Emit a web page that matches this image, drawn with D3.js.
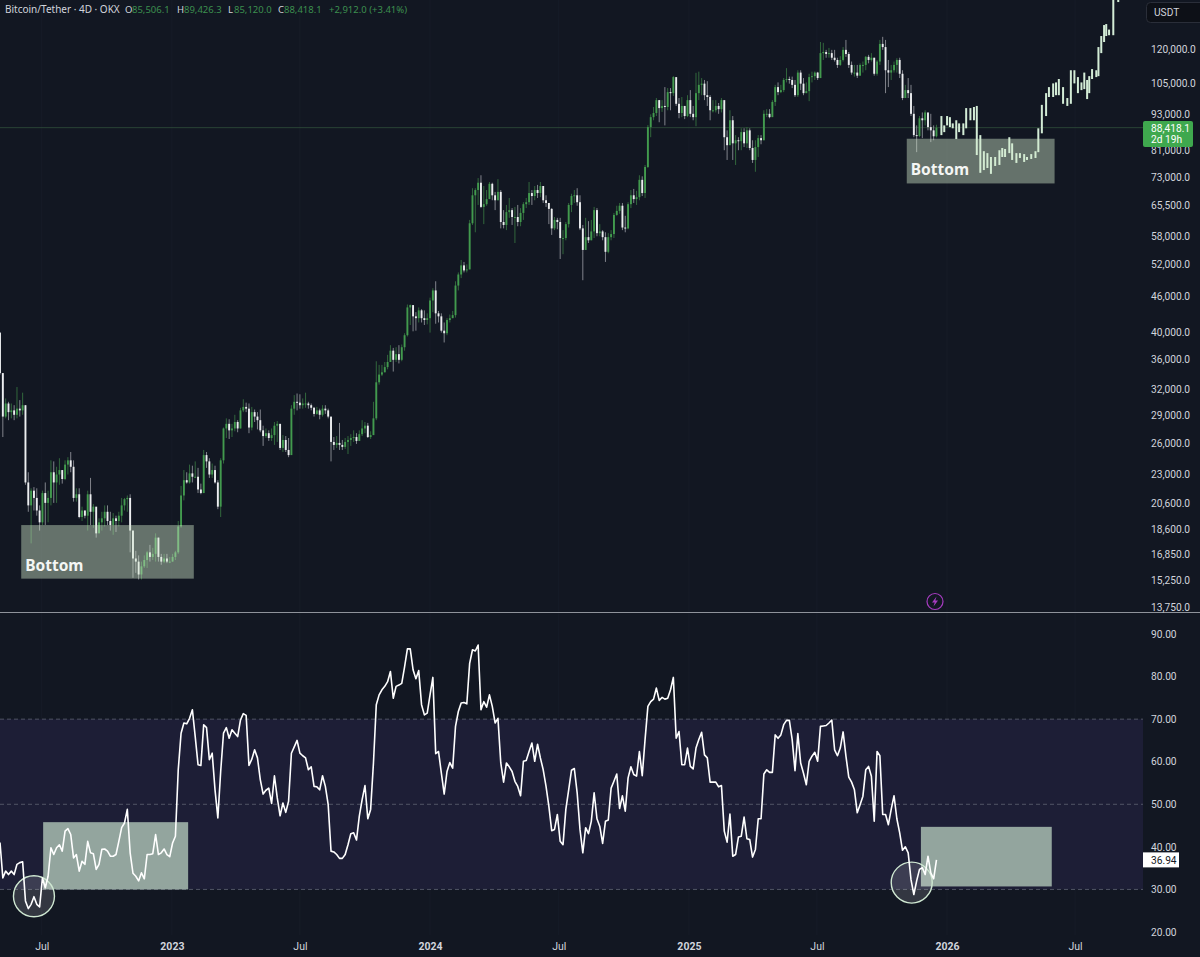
<!DOCTYPE html>
<html>
<head>
<meta charset="utf-8">
<script src="https://cdn.jsdelivr.net/npm/d3@7"></script>
<style>
  html, body { margin: 0; padding: 0; background: #121722; overflow: hidden; }
  svg { display: block; }
  text { font-family: "Noto Sans", sans-serif; fill: #d1d4dc; }
  .axis text { font-family: Roboto, sans-serif; font-size: 10.2px; }
  .axis path, .axis line { display: none; }
  .tag { font-family: Roboto, sans-serif; font-size: 10.2px; }
</style>
</head>
<body>
<script>
// 4D closes (opens are the previous close)
var firstOpen = 39900;
var closes = [
  34100,28800,30300,29300,29500,29000,29700,29500,30100,22300,20400,21600,21000,20000,19100,21400,20600,21000,23200,22300,
  23000,23400,22600,23900,24300,23700,21000,21300,19500,20000,19600,21300,19900,20300,18300,19100,19400,19900,19200,18900,
  19400,19200,19600,20400,20900,21000,18500,16600,16400,15600,16100,16500,17000,16700,16900,18000,16700,16400,16600,16400,
  16400,16700,17000,18800,21200,22500,22300,23100,22800,22800,21700,21400,24800,24200,23000,23400,22300,20300,24300,27500,
  28000,27300,27500,28200,27500,29500,29900,29700,27600,29300,28800,28400,27300,26700,27000,26500,26800,27800,28000,25500,
  26300,25300,24800,29700,30500,30400,
  30100,30300,30300,30100,29800,29100,29500,29000,29700,29500,28800,26100,25800,26000,25800,25600,26100,26300,26500,26600,
  26200,26900,27500,27800,26600,26800,28600,32900,33900,34200,34900,35600,37200,35900,36700,35900,37700,39500,44000,44400,
  42500,42200,43500,42200,41900,42200,45200,47000,43000,42500,40200,39800,41900,42200,42700,47900,50000,51800,50800,51000,
  61000,68000,69400,71400,65000,65700,67000,71100,68000,66700,68900,61300,60600,63700,64200,62500,62500,61300,63500,65700,
  66200,68600,67800,69400,68600,70500,66700,66000,64500,59800,61800,61300,57600,57600,60800,65500,67800,68000,66200,59800,
  55000,57800,57100,59100,64200,58700,59100,57800,54600,57800,58500,63000,64000,65300,60000,59800,65700,68000,67000,67500,
  72200,68600,75900,
  88600,92100,93600,98400,95400,96200,95800,101500,101100,107600,97000,93600,96200,92500,98400,93300,92100,101100,104400,104900,
  100300,99600,94600,94600,96200,95000,98400,85200,82600,91000,83200,84200,83900,86900,83200,87500,81700,78000,82000,84900,
  84200,93300,93300,92100,97700,103500,101500,102300,106400,106800,106400,104400,100300,109500,104900,101100,101900,107600,108000,109500,
  107200,118100,118600,117700,118100,116000,115000,112800,115000,119600,117700,112800,109500,109500,108200,112800,112800,116400,115000,116000,
  109000,114300,122400,120900,110500,109500,110500,112800,115000,109000,99200,102300,101100,93300,85900,85600,91700,91000,93800,88600,
  87500,85506.1,88418.1
];
var highs = [
  39900,34100,30900,30500,30300,30100,32300,30700,31600,30100,23200,21800,21900,21800,20400,21600,22300,21600,24300,24200,
  23700,24500,23400,24300,24600,25100,24300,21800,21800,20300,20000,21600,22700,20500,20000,19400,19900,20400,20400,19900,
  19800,19600,19900,21000,21000,21200,21300,18500,17100,16800,16400,16800,17100,17500,17300,18300,18000,16900,16900,16900,
  16700,16900,17100,19200,22000,23400,23200,23900,23800,24200,23600,22200,25300,25100,24500,24000,23800,22500,24500,27600,
  28600,28500,28000,29000,28400,29800,30800,30400,30300,29900,29600,29300,29600,27800,27500,27300,27500,28200,28300,27700,
  26800,26700,26500,30100,31300,31500,
  31400,30900,31600,30500,30300,29900,29900,29700,30100,30100,29700,28700,26600,26700,28100,26300,26500,26700,26900,27300,
  27000,27300,28400,28200,28100,27200,30500,35700,35200,35200,35600,36600,38000,37600,37700,38000,38100,39800,44500,44500,
  43900,43200,44000,43700,43500,43000,45700,47400,48700,43400,43000,41500,42200,42800,43400,48700,50400,52900,52500,52000,
  61800,69900,69900,72700,73500,70500,69400,71600,71400,68900,72400,69400,64200,65500,67300,64700,65000,65500,64700,66200,
  67300,71600,69400,70500,70800,71600,69900,68000,66000,64700,62500,62300,62300,59400,61300,66000,68400,69400,69900,68000,
  60600,62300,61500,61800,65000,64700,60800,59400,58900,58700,59400,63500,65300,66000,66000,62800,66200,69400,69700,69200,
  73500,73200,76500,
  89300,93100,95800,99200,98400,98400,103500,103100,103100,108000,106400,99200,99600,96200,100300,102300,96200,109400,109900,107200,
  106400,105900,100300,98400,98400,97300,99200,97000,87500,94600,92500,85900,85200,88200,88200,88600,88200,84200,84200,85900,
  85900,94600,95000,95000,98400,104400,105400,104400,107200,111400,107800,107800,106400,110500,110500,107200,105400,109000,109900,110000,
  109800,123300,122900,119600,120500,119600,119600,116000,116700,120900,124300,118600,114300,112800,112800,113500,114300,116800,117300,118100,
  116000,115000,124300,125800,124300,115000,112800,114300,115800,116000,110500,104400,107200,104400,96200,89200,92500,93800,94600,93300,
  93300,89200,89426.3
];
var lows = [
  33900,26600,28600,28400,28600,28400,28600,28800,29000,22100,19900,17600,20000,19600,18500,18900,18900,19100,20400,20600,
  20600,22100,22200,22500,23000,23200,20700,20700,19400,19200,19400,18500,18900,18700,18000,18400,18500,18800,18900,18500,
  18200,18400,18800,19100,20000,19900,17000,15400,15700,15300,15300,16000,16000,16400,16500,16400,16400,16200,16300,16300,
  16300,16400,16500,16900,18700,20800,22200,22200,22300,22700,21400,21300,21400,23600,22700,22700,22200,20100,19500,24000,
  26500,26400,26600,27200,27100,27500,29300,29300,27000,27300,28200,27400,27100,25700,26500,26200,26200,25800,26100,25300,
  25100,25100,24600,26200,29000,29500,
  29700,29700,29800,29700,29500,28800,29000,28500,28800,29100,28600,24200,25300,25500,25300,25300,25400,24900,25700,26100,
  25900,26200,26700,27000,26500,26400,26900,28400,32600,33700,34200,34600,35600,34300,35600,35400,35700,37200,39300,41100,
  40100,40200,41500,41500,41100,41200,39900,43200,41300,41500,39900,38400,39500,41500,42200,42300,47000,49300,50400,50400,
  51000,60600,58900,65500,64700,60800,65300,67300,66700,64200,66700,59800,59800,59400,62300,60600,56500,60300,60300,61800,
  64700,65500,65500,66700,67300,67500,66000,65000,60800,58300,59400,59600,53100,54100,57100,60000,63700,66000,65300,59400,
  48900,55000,56500,57100,57600,58000,58000,57100,52500,54300,57100,57600,62800,63300,59400,58900,59600,64700,66000,65500,
  66700,67800,67300,
  75600,85200,91000,92500,90300,94000,89200,94600,94600,100000,96200,91700,92100,91400,92100,92100,91000,88900,98400,100300,
  98400,96200,91000,93800,93800,93300,93800,81000,78000,85200,78000,76500,81000,81000,82000,81700,81000,77100,74500,78900,
  82900,84200,92100,91700,93300,96200,100300,101100,101500,105400,104900,103100,99600,99600,102300,100300,101100,98000,105400,106400,
  106400,107200,115000,116000,116000,115000,114300,111500,112400,114300,116400,111500,108600,107800,107200,108200,109500,110500,113500,114300,
  108200,108200,112800,119600,101100,103500,106400,109500,109500,107200,98400,99200,99200,92500,85200,80400,85200,84900,89200,87500,
  83600,84200,85120
];

// ghost feed bars on the right of the last candle
var ghostDays = [-8,-4,0,4,8,13,17,23,27,33,38,42,47,52,57,62,68,74,78,82,88,92,98,103,109,113,119,125,129,134,140,144,150,154,158,164,170,175,180,185,190,194,198,201,205,211,214,218,222,225,229,235,242];
var ghostHighs = [92500,89200,92500,92100,89900,91000,89900,89900,95400,95400,95800,96200,85900,80700,80100,78900,78900,81000,81700,81400,85200,83200,80100,80100,79800,78900,79800,80700,88200,96600,101100,103500,105000,105400,106800,103500,99200,110500,110500,107600,105400,109500,106400,108000,111000,110500,120900,126200,131700,132200,129400,148000,148000];
var ghostLows = [85900,86900,89200,88600,88200,84600,86900,85900,88200,91000,91000,79500,74200,75000,75600,73900,76200,76500,78900,78900,80100,78000,77100,78600,77400,78000,78300,78600,80400,86500,92500,99600,99600,100300,100300,97000,96200,97000,105000,101100,102300,102700,98800,101100,106800,107600,108000,118100,123300,126200,126600,126600,144000];

var rsiValues = [
  41,32.7,34.3,33.5,34.3,33.5,35.9,36.3,36.5,27.3,25.5,26.5,28.3,26.5,25.9,32.7,30.4,33.1,39.8,38.2,
  39.8,40.5,39,43.7,44.3,42.9,37.4,38.2,34.3,36.6,35.9,41.3,38.6,38.4,34.7,35.9,39.4,39.5,39,37.8,
  37.8,38.2,41.3,44.5,45.6,48.8,38.6,33.8,33.1,32,33.9,32.5,38.2,38.2,38.4,42.9,38.2,38.6,39.5,38.2,
  37.7,40.9,42.5,58.1,66.7,69.1,68.9,70.2,72.2,65.9,59.3,59.1,68.7,68,60.5,62,53.4,46.8,57.7,66.7,
  68,65.5,67.5,66.7,65.9,69.8,71.3,70.9,59.1,60.6,62.8,60.9,55.8,52.4,53.3,53.8,50.2,56.7,51.5,47.3,
  50.3,48.1,50.7,62,63.5,65,62,61.4,60.9,58.1,58.8,54.2,54.1,53.4,56.7,54.2,49.9,39,38.8,38.2,
  37.3,37.3,38.2,40.5,43.1,43.3,41.6,47.2,51.1,54.4,46.6,48.8,59.7,73.4,75.7,76.9,77.7,78.8,81.2,74.9,
  77.7,78,78.4,82.3,86.5,86.5,81.6,79.5,81.4,73.4,71,71.4,75.7,79.8,61.9,62.4,57.3,52.4,57.7,59.8,
  58.5,68.3,71.8,73.8,73.9,73.6,83.1,86.3,86,87.4,72.2,74.1,72.8,75.7,73,69.1,70.2,59.7,55.2,59.7,
  58.8,57.7,55.4,54.2,52,60.1,60.3,62.4,64.4,60.1,64.1,60.9,58.1,54.2,49.5,43.8,44.1,47.6,41.3,40.5,
  48.8,53.4,58,58.4,52.7,44.1,38.6,44.5,43.1,46,52.7,46.6,44.8,40.8,46,46.3,53.8,55.4,57.1,49,
  52,48.4,56.2,58.8,57,56.6,62.4,56.7,65.2,73,74.1,74.7,77.3,74.4,75.1,74.7,74.9,76.9,79.8,65.5,
  67.1,59.3,59.3,63.2,58.9,58.3,63.2,65.2,66.9,61.6,60.9,55.2,55.2,55.2,54.1,54.4,43.7,41.1,47.7,37.8,
  38.2,42.3,42.5,47,41.9,41.7,37.6,39.4,46.6,46.6,57.1,58.1,57.5,57.5,66.3,65.5,66.3,68.7,69.7,69.7,
  65.2,57.9,66.6,59.7,57.3,54.6,60.1,61.3,62.2,60.1,68.3,68.4,68.5,69.1,69.8,62.8,61.4,63.2,67,61.3,
  56.4,55.2,53.4,48,49.9,51.9,58.1,58.9,56.6,46,62.4,61.4,47.6,47.6,45.2,48.8,52,46.6,43.3,39.2,
  40,38.6,32.3,28.8,32,34.7,35.1,33.5,37.8,33.9,32.5,36.94
];

var priceTicks = [120000,105000,93000,81000,73000,65500,58000,52000,46000,40000,36000,32000,29000,26000,23000,20600,18600,16850,15250,13750];
var rsiTicks = [90,80,70,60,50,40,30,20];
var rsiGuides = [70,50,30];
var timeTicks = ["2022-07-01","2023-01-01","2023-07-01","2024-01-01","2024-07-01","2025-01-01","2025-07-01","2026-01-01","2026-07-01"];

var lastPrice = 88418.1;
var lastBar = "2025-12-17";
var barDays = 4;

var parseDay = d3.utcParse("%Y-%m-%d");
var lastDate = parseDay(lastBar);

var margin = { plotRight: 1143, priceTop: 49, priceBottom: 607, paneLine: 613, rsiTop: 634, rsiBottom: 932 };

var svg = d3.select("body").append("svg").attr("width", 1200).attr("height", 957);

svg.append("rect").attr("width", 1200).attr("height", 957).attr("fill", "#121722");

var x = d3.scaleUtc()
  .domain([parseDay("2022-05-03"), parseDay("2026-10-05")])
  .range([0, margin.plotRight]);
var y = d3.scaleLog().domain([13750, 120000]).range([margin.priceBottom, margin.priceTop]);
var yRsi = d3.scaleLinear().domain([20, 90]).range([margin.rsiBottom, margin.rsiTop]);

// bars are counted back from the last one so candles and RSI line up
function barDate(i, n) {
  return d3.utcDay.offset(lastDate, -barDays * (n - 1 - i));
}

var candles = closes.map(function (c, i) {
  return {
    date: barDate(i, closes.length),
    open: i === 0 ? firstOpen : closes[i - 1],
    close: c,
    high: highs[i],
    low: lows[i]
  };
});

var ghosts = ghostDays.map(function (d, i) {
  return { date: d3.utcDay.offset(parseDay("2026-01-01"), d), high: ghostHighs[i], low: ghostLows[i] };
});

var defs = svg.append("defs");
defs.append("clipPath").attr("id", "priceClip").append("rect")
  .attr("width", margin.plotRight).attr("height", margin.paneLine);

// faint time grid
svg.append("g").selectAll("line")
  .data(timeTicks)
  .enter().append("line")
  .attr("x1", function (d) { return x(parseDay(d)); })
  .attr("x2", function (d) { return x(parseDay(d)); })
  .attr("y1", 0).attr("y2", 935)
  .attr("stroke", "#171c28").attr("stroke-width", 1);

// price pane
var price = svg.append("g").attr("clip-path", "url(#priceClip)");

price.append("line")
  .attr("x1", 0).attr("x2", margin.plotRight)
  .attr("y1", y(lastPrice)).attr("y2", y(lastPrice))
  .attr("stroke", "#2a4436").attr("stroke-width", 1);

function upColor(d) { return d.close >= d.open; }

price.selectAll(".wick")
  .data(candles)
  .enter().append("line")
  .attr("class", "wick")
  .attr("x1", function (d) { return x(d.date); })
  .attr("x2", function (d) { return x(d.date); })
  .attr("y1", function (d) { return y(d.high); })
  .attr("y2", function (d) { return y(d.low); })
  .attr("stroke", function (d) { return upColor(d) ? "#35713f" : "#8d9097"; })
  .attr("stroke-width", 0.9);

price.selectAll(".body")
  .data(candles)
  .enter().append("rect")
  .attr("class", "body")
  .attr("x", function (d) { return x(d.date) - 0.95; })
  .attr("width", 1.9)
  .attr("y", function (d) { return y(Math.max(d.open, d.close)); })
  .attr("height", function (d) { return Math.max(1, Math.abs(y(d.open) - y(d.close))); })
  .attr("fill", function (d) { return upColor(d) ? "#429a4e" : "#eceef0"; });

price.selectAll(".ghost")
  .data(ghosts)
  .enter().append("rect")
  .attr("class", "ghost")
  .attr("x", function (d) { return x(d.date) - 1; })
  .attr("width", 2)
  .attr("y", function (d) { return y(d.high); })
  .attr("height", function (d) { return y(d.low) - y(d.high); })
  .attr("fill", "#d3ecd6");

// "Bottom" zones, set on price and time values
var bottomZones = [
  { from: "2022-06-02", to: "2023-02-01", top: 18900, bottom: 15350 },
  { from: "2025-11-05", to: "2026-06-02", top: 84700, bottom: 71200 }
];

svg.append("g").selectAll("rect")
  .data(bottomZones)
  .enter().append("rect")
  .attr("x", function (d) { return x(parseDay(d.from)); })
  .attr("width", function (d) { return x(parseDay(d.to)) - x(parseDay(d.from)); })
  .attr("y", function (d) { return y(d.top); })
  .attr("height", function (d) { return y(d.bottom) - y(d.top); })
  .attr("fill", "#d3eacb")
  .attr("fill-opacity", 0.43);

svg.append("g").selectAll("text")
  .data(bottomZones)
  .enter().append("text")
  .attr("x", function (d) { return x(parseDay(d.from)) + 4; })
  .attr("y", function (d) { return y(d.bottom) - 8; })
  .style("font-size", "15.5px")
  .style("font-weight", 700)
  .style("fill", "#f4f6f4")
  .text("Bottom");

// pane separator
svg.append("line")
  .attr("x1", 0).attr("x2", 1200)
  .attr("y1", margin.paneLine - 0.5).attr("y2", margin.paneLine - 0.5)
  .attr("stroke", "#8f939b").attr("stroke-width", 1);

// lightning marker
var bolt = svg.append("g").attr("transform", "translate(935,601.5)");
bolt.append("circle").attr("r", 8).attr("fill", "none").attr("stroke", "#a63cc0").attr("stroke-width", 1.2);
bolt.append("path").attr("d", "M1.5,-5 L-3,1 L-0.3,1 L-1.5,5 L3,-1 L0.3,-1 Z").attr("fill", "#a63cc0");

// RSI pane
svg.append("rect")
  .attr("x", 0).attr("width", margin.plotRight)
  .attr("y", yRsi(70)).attr("height", yRsi(30) - yRsi(70))
  .attr("fill", "#1d1e36");

svg.append("g").selectAll("line")
  .data(rsiGuides)
  .enter().append("line")
  .attr("x1", 0).attr("x2", margin.plotRight)
  .attr("y1", function (d) { return yRsi(d); })
  .attr("y2", function (d) { return yRsi(d); })
  .attr("stroke", "#5f6272")
  .attr("stroke-width", 0.8)
  .attr("stroke-dasharray", "4 3");

var rsiZones = [
  { from: "2022-07-03", to: "2023-01-24", top: 45.8, bottom: 30 },
  { from: "2025-11-25", to: "2026-05-29", top: 44.7, bottom: 30.7 }
];

svg.append("g").selectAll("rect")
  .data(rsiZones)
  .enter().append("rect")
  .attr("x", function (d) { return x(parseDay(d.from)); })
  .attr("width", function (d) { return x(parseDay(d.to)) - x(parseDay(d.from)); })
  .attr("y", function (d) { return yRsi(d.top); })
  .attr("height", function (d) { return yRsi(d.bottom) - yRsi(d.top); })
  .attr("fill", "#e3ffe5")
  .attr("fill-opacity", 0.6);

var rsiCircles = [
  { date: "2022-06-20", value: 28.4 },
  { date: "2025-11-12", value: 31.6 }
];

svg.append("g").selectAll("circle")
  .data(rsiCircles)
  .enter().append("circle")
  .attr("cx", function (d) { return x(parseDay(d.date)); })
  .attr("cy", function (d) { return yRsi(d.value); })
  .attr("r", 20.5)
  .attr("fill", "#ffffff")
  .attr("fill-opacity", 0.14)
  .attr("stroke", "#cfe8d2")
  .attr("stroke-width", 1.4);

var rsiLine = d3.line()
  .x(function (d, i) { return x(barDate(i, rsiValues.length)); })
  .y(function (d) { return yRsi(d); });

svg.append("path")
  .datum(rsiValues)
  .attr("d", rsiLine)
  .attr("fill", "none")
  .attr("stroke", "#ffffff")
  .attr("stroke-width", 1.6)
  .attr("stroke-linejoin", "round");

// axes
var priceAxis = d3.axisRight(y).tickValues(priceTicks).tickFormat(d3.format(",.1f")).tickSize(0).tickPadding(0);
svg.append("g").attr("class", "axis").attr("transform", "translate(1151,0)").call(priceAxis);

var rsiAxis = d3.axisRight(yRsi).tickValues(rsiTicks).tickFormat(d3.format(".2f")).tickSize(0).tickPadding(0);
svg.append("g").attr("class", "axis").attr("transform", "translate(1151,0)").call(rsiAxis);

var timeAxis = d3.axisBottom(x)
  .tickValues(timeTicks.map(parseDay))
  .tickFormat(function (d) { return d.getUTCMonth() === 0 ? d3.utcFormat("%Y")(d) : "Jul"; })
  .tickSize(0).tickPadding(0);
var timeG = svg.append("g").attr("class", "axis").attr("transform", "translate(0,943)").call(timeAxis);
timeG.selectAll("text")
  .style("font-size", "10.5px")
  .style("font-weight", function (d) { return d.getUTCMonth() === 0 ? 700 : 400; });

// last price tag
svg.append("rect").attr("x", 1143).attr("y", 121).attr("width", 50).attr("height", 26).attr("rx", 2).attr("fill", "#3fa84e");
svg.append("text").attr("class", "tag").attr("x", 1151).attr("y", 132).style("fill", "#ffffff").text(d3.format(",.1f")(lastPrice));
svg.append("text").attr("class", "tag").attr("x", 1151).attr("y", 143).style("fill", "#ffffff").text("2d 19h");

// last RSI tag
var lastRsi = rsiValues[rsiValues.length - 1];
svg.append("rect").attr("x", 1143).attr("y", yRsi(lastRsi) - 7.5).attr("width", 36).attr("height", 15).attr("fill", "#ffffff");
svg.append("text").attr("class", "tag").attr("x", 1151).attr("y", yRsi(lastRsi) + 3.8).style("fill", "#131722").text(d3.format(".2f")(lastRsi));

// currency button
svg.append("rect").attr("x", 1146.5).attr("y", 2.5).attr("width", 60).attr("height", 20).attr("rx", 4)
  .attr("fill", "#0d1017").attr("stroke", "#2a2e39");
svg.append("text").attr("class", "tag").attr("x", 1154).attr("y", 16).text("USDT");

// legend line
var legend = [
  { x: 5, t: "Bitcoin/Tether · 4D · OKX", c: "#d1d4dc", s: 10 },
  { x: 125, t: "O", c: "#d1d4dc", s: 9.5 },
  { x: 132, t: "85,506.1", c: "#3d8f4f", s: 9.5 },
  { x: 177, t: "H", c: "#d1d4dc", s: 9.5 },
  { x: 184, t: "89,426.3", c: "#3d8f4f", s: 9.5 },
  { x: 228, t: "L", c: "#d1d4dc", s: 9.5 },
  { x: 234, t: "85,120.0", c: "#3d8f4f", s: 9.5 },
  { x: 278, t: "C", c: "#d1d4dc", s: 9.5 },
  { x: 284, t: "88,418.1", c: "#3d8f4f", s: 9.5 },
  { x: 329, t: "+2,912.0 (+3.41%)", c: "#3d8f4f", s: 9.5 }
];

svg.append("g").selectAll("text")
  .data(legend)
  .enter().append("text")
  .attr("x", function (d) { return d.x; })
  .attr("y", 13)
  .style("font-size", function (d) { return d.s + "px"; })
  .style("fill", function (d) { return d.c; })
  .text(function (d) { return d.t; });
</script>
</body>
</html>
